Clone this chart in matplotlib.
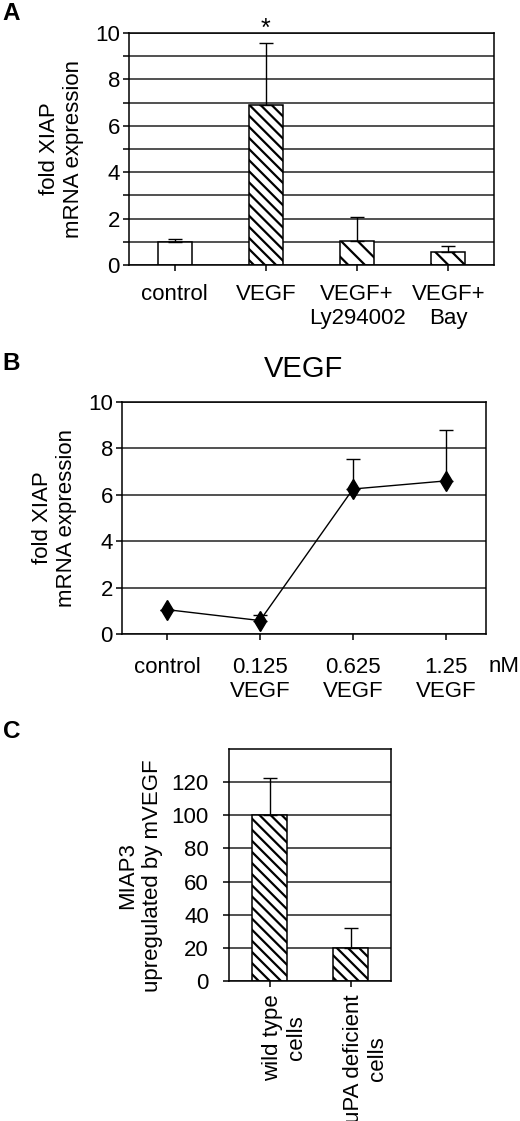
import matplotlib
matplotlib.use("Agg")
import matplotlib.pyplot as plt
import matplotlib.transforms as mtrans
import numpy as np

plt.rcParams['font.family'] = ['Liberation Sans', 'DejaVu Sans']
plt.rcParams['hatch.linewidth'] = 1.6
plt.rcParams['hatch.color'] = 'black'

# panel A
a_labels = ["control", "VEGF", "VEGF+\nLy294002", "VEGF+\nBay"]
a_values = [1.0, 6.9, 1.05, 0.55]
a_err = [0.13, 2.65, 1.0, 0.25]
a_hatch = ["", "\\\\\\", "\\\\", "\\\\"]

# panel B
b_labels = ["control", "0.125\nVEGF", "0.625\nVEGF", "1.25\nVEGF"]
b_values = [1.05, 0.58, 6.25, 6.6]
b_err = [0.0, 0.22, 1.3, 2.2]

# panel C
c_labels = ["wild type\ncells", "uPA deficient\ncells"]
c_values = [100, 20]
c_err = [22.5, 12]

fs = 16
lw = 1.1

fig = plt.figure(figsize=(5.2, 11.21), dpi=100)


def style(ax):
    for s in ax.spines.values():
        s.set_linewidth(lw)
    ax.set_axisbelow(True)
    ax.yaxis.grid(True, color='#222222', linewidth=lw)
    ax.tick_params(axis='both', which='both', direction='out', length=4.5,
                   width=lw, labelsize=fs)
    ax.tick_params(axis='y', pad=2)


# ---- A ----
axA = fig.add_axes([129/520, 1 - 265/1121, 365/520, 232/1121])
xa = np.arange(len(a_values))
for i in range(len(xa)):
    axA.bar(xa[i], a_values[i], width=0.375, color='white', edgecolor='black',
            linewidth=lw, hatch=a_hatch[i], zorder=2)
axA.errorbar(xa, a_values, yerr=[np.zeros(len(a_err)), a_err], fmt='none',
             ecolor='black', elinewidth=1.0, capsize=5, capthick=1.0, zorder=3)
axA.set_xlim(-0.5, 3.5)
axA.set_ylim(0, 10)
axA.set_yticks(np.arange(0, 11, 2))
axA.set_yticks(np.arange(1, 10, 2), minor=True)
axA.yaxis.grid(True, which='minor', color='#222222', linewidth=lw)
style(axA)
axA.set_xticks(xa)
axA.set_xticklabels(a_labels, fontsize=fs)
axA.tick_params(axis='x', pad=9)
axA.set_ylabel("fold XIAP\nmRNA expression", fontsize=fs, labelpad=8)
axA.text(xa[1], 10.2, "*", ha='center', va='center', fontsize=18)
fig.text(0.005, 1 - 14/1121, "A", fontsize=17.5, fontweight='bold', va='center')

# ---- B ----
axB = fig.add_axes([122/520, 1 - 634/1121, 364/520, 232/1121])
xb = np.arange(len(b_values))
axB.plot(xb, b_values, color='black', linewidth=1.0, marker='d',
         markersize=10, markerfacecolor='black', zorder=3)
axB.errorbar(xb, b_values, yerr=[np.zeros(len(b_err)), b_err], fmt='none',
             ecolor='black', elinewidth=1.0, capsize=5, capthick=1.0, zorder=2)
axB.set_xlim(-0.484, 3.43)
axB.set_ylim(0, 10)
axB.set_yticks(np.arange(0, 11, 2))
style(axB)
axB.set_xticks(xb)
axB.set_xticklabels(b_labels, fontsize=fs)
axB.tick_params(axis='x', pad=12)
axB.set_ylabel("fold XIAP\nmRNA expression", fontsize=fs, labelpad=8)
axB.set_title("VEGF", fontsize=21, pad=18)
fig.text(489/520, 1 - 667/1121, "nM", fontsize=fs, va='center', ha='left')
fig.text(0.005, 1 - 363/1121, "B", fontsize=17.5, fontweight='bold', va='center')

# ---- C ----
axC = fig.add_axes([229/520, 1 - 981/1121, 162/520, 232/1121])
xc = np.arange(len(c_values))
axC.bar(xc, c_values, width=0.42, color='white', edgecolor='black',
        linewidth=lw, hatch="\\\\\\", zorder=2)
axC.errorbar(xc, c_values, yerr=[np.zeros(len(c_err)), c_err], fmt='none',
             ecolor='black', elinewidth=1.0, capsize=5, capthick=1.0, zorder=3)
axC.set_xlim(-0.5, 1.5)
axC.set_ylim(0, 140)
axC.set_yticks(np.arange(0, 121, 20))
style(axC)
axC.tick_params(axis='y', pad=10)
axC.set_xticks(xc)
axC.set_xticklabels(c_labels, fontsize=fs, rotation=90, multialignment='center')
axC.tick_params(axis='x', pad=5)
shift = mtrans.ScaledTranslation(0.15, 0, fig.dpi_scale_trans)
for lab in axC.get_xticklabels():
    lab.set_transform(lab.get_transform() + shift)
axC.set_ylabel("MIAP3\nupregulated by mVEGF", fontsize=fs)
axC.yaxis.set_label_coords(-0.41, 0.453)
fig.text(0.005, 1 - 731/1121, "C", fontsize=17.5, fontweight='bold', va='center')

fig.savefig("out.png", dpi=100)
